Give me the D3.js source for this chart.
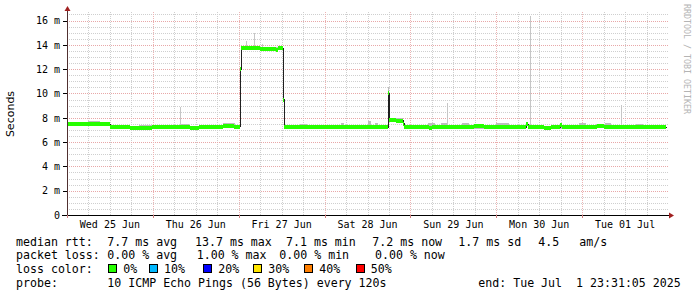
<!DOCTYPE html>
<html>
<head>
<meta charset="utf-8">
<script src="https://cdn.jsdelivr.net/npm/d3@7"></script>
<style>
  body { margin: 0; background: #fff; }
  svg { display: block; }
  text { font-family: "DejaVu Sans Mono", monospace; fill: #000; }
</style>
</head>
<body>
<div id="chart"></div>
<script>
// hours counted from Wed 25 Jun 2025 00:00
var medianHours  = [0, 6.4, 9.2, 12, 17.6, 23.7, 26, 34.3, 37, 43.5, 46.6, 48.3, 48.6, 53.9, 58.3, 59, 60.3, 60.6, 65, 70.6,
                    89.6, 90.1, 92.1, 93.8, 94.3, 101.3, 101.9, 104.1, 108.3, 113.9, 116.7, 123.6, 128.4, 129, 133.4, 135.4,
                    137.9, 138.4, 143.2, 148.2, 150.2, 153.2, 155.7, 167.5];
var medianValues = [7.45, 7.5, 7.45, 7.2, 7.15, 7.25, 7.2, 7.15, 7.2, 7.35, 7.25, 12.0, 13.7, 13.65, 13.6, 13.7, 9.5, 7.2, 7.25, 7.2,
                    10.0, 7.8, 7.75, 7.5, 7.2, 7.15, 7.2, 7.25, 7.2, 7.3, 7.25, 7.2, 7.45, 7.2, 7.15, 7.2,
                    7.4, 7.25, 7.2, 7.3, 7.2, 7.25, 7.2, 7.2];

var smokeHours = [0, 6, 9.2, 12, 20, 24, 32, 34, 43.5, 47, 48.3, 48.6, 60.3, 60.6, 65, 67, 76.5, 77.5, 84.2, 85, 86, 87,
                  89.6, 90.1, 93.8, 94.3, 101, 103, 104.5, 106.5, 110.5, 112.5, 120, 123.5, 128.4, 129, 143, 145,
                  148, 150.5, 152, 159, 161, 167.5];
var smokeHi = [7.6, 7.7, 7.55, 7.3, 7.4, 7.35, 7.45, 7.3, 7.55, 7.4, 12.1, 13.85, 9.6, 7.3, 7.5, 7.3, 7.55, 7.3, 7.75, 7.3, 7.55, 7.3,
               10.5, 7.95, 7.6, 7.35, 7.55, 7.35, 7.6, 7.35, 7.55, 7.35, 7.6, 7.35, 7.55, 7.35, 7.55, 7.35,
               7.45, 7.55, 7.35, 7.45, 7.3, 7.3];
var smokeLo = [7.35, 7.4, 7.35, 7.1, 7.1, 7.1, 7.1, 7.05, 7.25, 7.2, 11.9, 13.55, 9.4, 7.1, 7.15, 7.1, 7.1, 7.1, 7.1, 7.1, 7.1, 7.1,
               9.9, 7.65, 7.4, 7.1, 7.05, 7.1, 7.15, 7.1, 7.1, 7.1, 7.1, 7.1, 7.35, 7.05, 7.1, 7.1,
               7.2, 7.1, 7.1, 7.1, 7.1, 7.1];

// single slow pings: time, top value, and the level they rise from
var spikeHours  = [31.7, 50.1, 52.2, 54.4, 106.1, 129.5, 154.8];
var spikeValues = [8.9, 14.3, 14.95, 14.05, 9.2, 16.4, 9.05];
var spikeBase   = [7.2, 13.7, 13.7, 13.7, 7.2, 7.2, 7.2];

var yTicks = [0, 2, 4, 6, 8, 10, 12, 14, 16];

var lossLabels = ["0%", "10%", "20%", "30%", "40%", "50%"];
var lossColors = ["#26ff00", "#00b8ff", "#0000ff", "#ffe600", "#ff7f00", "#ff0000"];

var W = 697, H = 297;
var pLeft = 67, pRight = 668, pTop = 12, pBottom = 215;
var t0 = new Date(2025, 5, 25), t1 = new Date(2025, 6, 2);
var hd = function(h) { return new Date(t0.getTime() + h * 3600e3); };

var svg = d3.select("#chart").append("svg").attr("width", W).attr("height", H);
svg.append("rect").attr("width", W).attr("height", H).attr("fill", "#fff");

var x = d3.scaleTime().domain([t0, t1]).range([pLeft, pRight]);
var y = d3.scaleLinear().domain([0, 16.7]).range([pBottom, pTop]);

/***************************
 * grid
 ***************************/
var grid = svg.append("g").attr("shape-rendering", "crispEdges");
var minorY = d3.range(0.5, 16.7, 0.5).filter(function(v) { return v % 2 != 0; });
grid.selectAll(".my").data(minorY).enter().append("line")
    .attr("x1", pLeft).attr("x2", pRight)
    .attr("y1", function(d) { return Math.round(y(d)) + 0.5; })
    .attr("y2", function(d) { return Math.round(y(d)) + 0.5; })
    .attr("stroke", "#cfcfcf").attr("stroke-dasharray", "1,1");
var sixHours = d3.timeHour.every(6).range(t0, t1).filter(function(d) { return d.getHours() != 0; });
grid.selectAll(".mx").data(sixHours).enter().append("line")
    .attr("x1", function(d) { return Math.round(x(d)) + 0.5; })
    .attr("x2", function(d) { return Math.round(x(d)) + 0.5; })
    .attr("y1", pTop).attr("y2", pBottom)
    .attr("stroke", "#cfcfcf").attr("stroke-dasharray", "1,1");
grid.selectAll(".My").data(yTicks.slice(1)).enter().append("line")
    .attr("x1", pLeft).attr("x2", pRight)
    .attr("y1", function(d) { return Math.round(y(d)) + 0.5; })
    .attr("y2", function(d) { return Math.round(y(d)) + 0.5; })
    .attr("stroke", "#e8a8a8").attr("stroke-dasharray", "1,1");
var days = d3.timeDay.range(t0, t1);
grid.selectAll(".Mx").data(days.slice(1)).enter().append("line")
    .attr("x1", function(d) { return Math.round(x(d)) + 0.5; })
    .attr("x2", function(d) { return Math.round(x(d)) + 0.5; })
    .attr("y1", pTop).attr("y2", pBottom + 3)
    .attr("stroke", "#ecb4b4").attr("stroke-dasharray", "1,1");

/***************************
 * smoke + median
 ***************************/
var plot = svg.append("g").attr("shape-rendering", "crispEdges");
smokeHours.slice(0, -1).forEach(function(h, i) {
    var x0 = Math.round(x(hd(h))), x1 = Math.round(x(hd(smokeHours[i + 1])));
    plot.append("rect").attr("x", x0).attr("width", Math.max(1, x1 - x0))
        .attr("y", y(smokeHi[i])).attr("height", y(smokeLo[i]) - y(smokeHi[i]))
        .attr("fill", "#bdbdbd");
});
spikeHours.forEach(function(h, i) {
    var xx = Math.round(x(hd(h)));
    plot.append("rect").attr("x", xx).attr("width", 1)
        .attr("y", y(spikeValues[i])).attr("height", y(spikeBase[i]) - y(spikeValues[i]))
        .attr("fill", "#c6c6c6");
});

var medPts = medianHours.map(function(h, i) { return [Math.round(x(hd(h))) + 0.5, y(medianValues[i])]; });
plot.append("path").attr("d", d3.line().curve(d3.curveStepAfter)(medPts))
    .attr("fill", "none").attr("stroke", "#202020").attr("stroke-width", 1);

medianHours.slice(0, -1).forEach(function(h, i) {
    var x0 = Math.round(x(hd(h))), x1 = Math.round(x(hd(medianHours[i + 1])));
    plot.append("rect").attr("x", x0).attr("width", Math.max(1, x1 - x0))
        .attr("y", y(medianValues[i]) - 2).attr("height", 4)
        .attr("fill", lossColors[0]);
});

/***************************
 * axes
 ***************************/
var ax = svg.append("g").attr("shape-rendering", "crispEdges");
ax.append("line").attr("x1", pLeft - 5).attr("x2", pRight + 2).attr("y1", pBottom + 0.5).attr("y2", pBottom + 0.5)
    .attr("stroke", "#000");
ax.append("line").attr("x1", pLeft + 0.5).attr("x2", pLeft + 0.5).attr("y1", pBottom + 3).attr("y2", pTop - 2)
    .attr("stroke", "#503030");
svg.append("path").attr("d", "M" + (pRight + 1) + "," + (pBottom - 2.5) + "L" + (pRight + 6) + "," + (pBottom + 0.5) + "L" + (pRight + 1) + "," + (pBottom + 3.5) + "Z")
    .attr("fill", "#a02020");
svg.append("path").attr("d", "M" + (pLeft - 2.5) + "," + (pTop - 1) + "L" + (pLeft + 0.5) + "," + (pTop - 6) + "L" + (pLeft + 3.5) + "," + (pTop - 1) + "Z")
    .attr("fill", "#a02020");
ax.selectAll(".yt").data(yTicks).enter().append("line")
    .attr("x1", pLeft - 4).attr("x2", pLeft)
    .attr("y1", function(d) { return Math.round(y(d)) + 0.5; })
    .attr("y2", function(d) { return Math.round(y(d)) + 0.5; })
    .attr("stroke", "#000");
ax.selectAll(".xt").data(days).enter().append("line")
    .attr("x1", function(d) { return Math.round(x(d)) + 0.5; })
    .attr("x2", function(d) { return Math.round(x(d)) + 0.5; })
    .attr("y1", pBottom).attr("y2", pBottom + 3)
    .attr("stroke", "#d08080");

svg.selectAll(".yl").data(yTicks).enter().append("text")
    .attr("x", 60).attr("y", function(d) { return y(d) + 3.8; })
    .attr("text-anchor", "end").style("font-size", "10px")
    .text(function(d) { return d == 0 ? "0" : d + " m"; });

var noons = days.map(function(d) { return d3.timeHour.offset(d, 12); });
svg.selectAll(".xl").data(noons).enter().append("text")
    .attr("x", function(d) { return x(d); }).attr("y", 228)
    .attr("text-anchor", "middle").style("font-size", "10px")
    .text(d3.timeFormat("%a %d %b"));

svg.append("text").attr("transform", "translate(14,114) rotate(-90)")
    .attr("text-anchor", "middle").style("font-family", "DejaVu Sans").style("font-size", "11px")
    .text("Seconds");

svg.append("text").attr("transform", "translate(684,4) rotate(90)")
    .style("font-size", "8.3px").style("fill", "#b4b4b4")
    .text("RRDTOOL / TOBI OETIKER");

/***************************
 * legend
 ***************************/
var rows = [
    [[16, "median rtt:"], [107.3, "7.7 ms avg"], [195, "13.7 ms max"], [286, "7.1 ms min"], [372.3, "7.2 ms now"], [458.3, "1.7 ms sd"], [538.3, "4.5"], [579.3, "am/s"]],
    [[16, "packet loss:"], [107.3, "0.00 % avg"], [196.7, "1.00 % max"], [279.3, "0.00 % min"], [375, "0.00 % now"]],
    [[16, "loss color:"]],
    [[16, "probe:"], [107.3, "10 ICMP Echo Pings (56 Bytes) every 120s"], [478.3, "end: Tue Jul  1 23:31:05 2025"]]
];
var baselines = [245.5, 259, 273, 286.5];
rows.forEach(function(r, i) {
    r.forEach(function(c) {
        svg.append("text").attr("x", c[0]).attr("y", baselines[i]).style("font-size", "11.6px")
            .attr("xml:space", "preserve").style("white-space", "pre").text(c[1]);
    });
});
var swatchX = [108.3, 149, 203.3, 253.3, 304.3, 355.7];
var labelX  = [123.3, 164, 218.3, 268.3, 319.3, 370.7];
lossLabels.forEach(function(l, i) {
    svg.append("rect").attr("x", Math.round(swatchX[i]) + 0.5).attr("y", 264.5).attr("width", 8).attr("height", 8)
        .attr("fill", lossColors[i]).attr("stroke", "#000");
    svg.append("text").attr("x", labelX[i]).attr("y", baselines[2]).style("font-size", "11.6px").text(l);
});
</script>
</body>
</html>
